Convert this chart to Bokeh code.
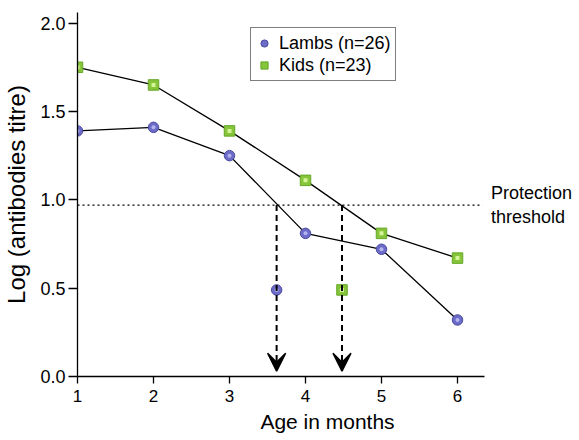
from bokeh.plotting import figure
from bokeh.models import (Range1d, FixedTicker, NumeralTickFormatter, Legend, LegendItem,
                          Arrow, VeeHead, Label)
from bokeh.embed import file_html
from bokeh.resources import INLINE

# ---- data ----
months = [1, 2, 3, 4, 5, 6]
lambs = [1.39, 1.41, 1.25, 0.81, 0.72, 0.32]
kids = [1.75, 1.65, 1.39, 1.11, 0.81, 0.67]
threshold = 0.97
threshold_end = 6.33
lambs_cross = 3.62
kids_cross = 4.48
cross_marker_y = 0.49
arrow_end_y = 0.03
x_ticks = [1, 2, 3, 4, 5, 6]
y_ticks = [0.0, 0.5, 1.0, 1.5, 2.0]
x_axis_end = 6.355

FONT = "Liberation Sans"
LAMB_FILL, LAMB_LINE, LAMB_IN = "#6c6cc8", "#4a4aa0", "#b4b4f0"
KID_FILL, KID_LINE, KID_IN = "#86c43a", "#64a828", "#d4f49a"

p = figure(frame_width=500, frame_height=364, output_backend="svg", toolbar_location=None,
           x_range=Range1d(1, 1 + 500 / 76), y_range=Range1d(0, 2.06),
           min_border_left=75, min_border_top=12, min_border_right=0, min_border_bottom=58)
p.outline_line_color = None
p.xgrid.visible = False
p.ygrid.visible = False
p.background_fill_color = "white"

# axes
p.xaxis.ticker = FixedTicker(ticks=x_ticks)
p.xaxis.bounds = (1, x_axis_end)
p.yaxis.ticker = FixedTicker(ticks=y_ticks)
p.yaxis.formatter = NumeralTickFormatter(format="0.0")
p.xaxis.axis_label = "Age in months"
p.yaxis.axis_label = "Log (antibodies titre)"
for ax in (p.xaxis, p.yaxis):
    ax.axis_line_color = "black"
    ax.axis_line_width = 1.3
    ax.major_tick_line_color = "black"
    ax.major_tick_line_width = 1.3
    ax.major_tick_in = 0
    ax.minor_tick_line_color = None
    ax.major_label_text_font = FONT
    ax.major_label_text_font_size = "17px"
    ax.major_label_text_color = "black"
    ax.axis_label_text_font = FONT
    ax.axis_label_text_font_style = "normal"
    ax.axis_label_text_color = "black"
p.xaxis.major_tick_out = 7
p.xaxis.major_label_standoff = 6
p.xaxis.axis_label_text_font_size = "21px"
p.xaxis.axis_label_standoff = 5
p.yaxis.major_label_text_font_size = "18px"
p.yaxis.major_tick_out = 9
p.yaxis.major_label_standoff = 3
p.yaxis.axis_label_text_font_size = "24px"
p.yaxis.axis_label_standoff = 7

# threshold
p.segment(x0=[1], y0=[threshold], x1=[threshold_end], y1=[threshold],
          line_color="black", line_width=1.3, line_dash="2 3")
p.add_layout(Label(x=6.44, y=threshold, text="Protection\nthreshold", text_font=FONT,
                   text_font_size="18px", text_baseline="middle", text_align="left",
                   text_line_height=1.2, text_color="black"))

# arrows
for xc in (lambs_cross, kids_cross):
    p.add_layout(Arrow(end=VeeHead(size=18, fill_color="black", line_color="black",
                                   line_width=1.5),
                       x_start=xc, y_start=threshold, x_end=xc, y_end=arrow_end_y,
                       line_color="black", line_width=2, line_dash="6 4"))

# lines
p.line(months, lambs, line_color="black", line_width=1.3)
p.line(months, kids, line_color="black", line_width=1.3)

# markers
lamb_x = months + [lambs_cross]
lamb_y = lambs + [cross_marker_y]
kid_x = months + [kids_cross]
kid_y = kids + [cross_marker_y]
l_out = p.scatter(lamb_x, lamb_y, marker="circle", size=10.5, fill_color=LAMB_FILL,
                  line_color=LAMB_LINE, line_width=1)
l_in = p.scatter(lamb_x, lamb_y, marker="circle", size=4, fill_color=LAMB_IN, line_color=None)
k_out = p.scatter(kid_x, kid_y, marker="square", size=10.5, fill_color=KID_FILL,
                  line_color=KID_LINE, line_width=1)
k_in = p.scatter(kid_x, kid_y, marker="square", size=4, fill_color=KID_IN, line_color=None)

legend = Legend(items=[LegendItem(label="Lambs (n=26)", renderers=[l_out]),
                       LegendItem(label="Kids (n=23)", renderers=[k_out])],
                location=(173, 295), border_line_color="black", border_line_width=1,
                padding=4, spacing=0, margin=0, glyph_width=18, glyph_height=22,
                label_height=22, label_standoff=6, label_text_font=FONT,
                label_text_font_size="18px", label_text_color="black",
                background_fill_alpha=1.0)
p.add_layout(legend)

open("out.html", "w").write(file_html(p, INLINE))
